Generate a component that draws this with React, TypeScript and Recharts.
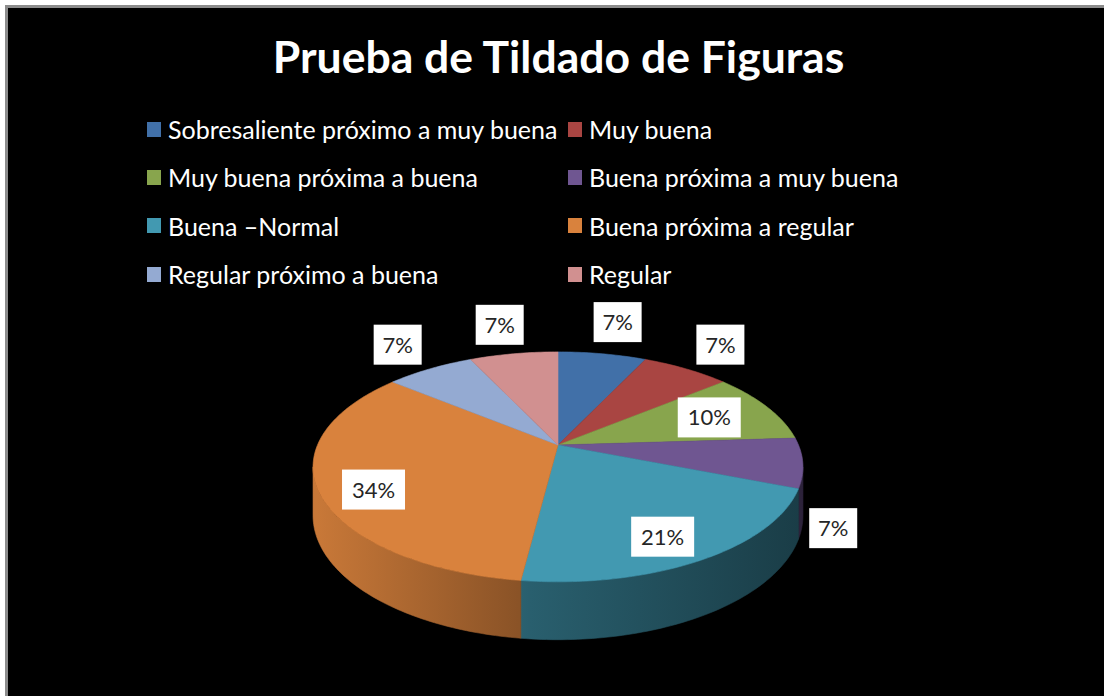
import { PieChart, Pie, Legend } from "recharts";

const categories = [
  "Sobresaliente próximo a muy buena",
  "Muy buena",
  "Muy buena próxima a buena",
  "Buena próxima a muy buena",
  "Buena –Normal",
  "Buena próxima a regular",
  "Regular próximo a buena",
  "Regular",
];
const values = [7, 7, 10, 7, 21, 34, 7, 7];
const colors = ["#4170A8", "#A94542", "#88A54D", "#6F5691", "#4299B1", "#D9823D", "#94AAD2", "#D19090"];

// where each percent box sits: radius fraction and drop in wall depths
const labelRadius = [1.44, 1.32, 0.71, 1.12, 0.75, 0.78, 1.3, 1.4];
const labelDrop = [0, -0.1, 0, 1.3, 0.19, 0.22, -0.13, 0];

const data = categories.map((name, i) => ({ name, value: values[i] }));

const TILT = 0.4607;
const PERSP = 0.19;
const DEPTH = 0.195;
const FONT = "Lato, 'Open Sans', sans-serif";

function project(cx: number, cy: number, R: number, f: number, deg: number, drop = 0) {
  const t = (deg * Math.PI) / 180;
  const s = 1 / (1 + PERSP * f * Math.sin(t));
  return [cx + R * f * Math.cos(t) * s, cy - R * TILT * f * Math.sin(t) * s + drop * R * DEPTH * s];
}

function arcPoints(cx: number, cy: number, R: number, from: number, to: number, drop = 0) {
  const pts: number[][] = [];
  const n = Math.max(2, Math.ceil(Math.abs(to - from)));
  for (let k = 0; k <= n; k++) {
    pts.push(project(cx, cy, R, 1, from + ((to - from) * k) / n, drop));
  }
  return pts;
}

function shade(hex: string, k: number) {
  const n = parseInt(hex.slice(1), 16);
  const c = [(n >> 16) & 255, (n >> 8) & 255, n & 255].map((v) => Math.round(v * k));
  return `rgb(${c.join(",")})`;
}

const SIL = (Math.asin(PERSP) * 180) / Math.PI;

function renderSlice(props: any) {
  const { cx, cy, outerRadius: R, startAngle, endAngle, index } = props;
  const color = colors[index];
  const hi = Math.max(startAngle, endAngle);
  const lo = Math.min(startAngle, endAngle);
  const top = arcPoints(cx, cy, R, hi, lo);
  const topPath = `M${cx},${cy} ` + top.map((p) => `L${p[0]},${p[1]}`).join(" ") + " Z";

  const wHi = Math.min(hi, -SIL);
  const wLo = Math.max(lo, -180 + SIL);
  let wallPath = "";
  if (wLo < wHi) {
    const upper = arcPoints(cx, cy, R, wHi, wLo);
    const lower = arcPoints(cx, cy, R, wLo, wHi, 1);
    wallPath =
      "M" + upper.map((p) => `${p[0]},${p[1]}`).join(" L") + " L" + lower.map((p) => `${p[0]},${p[1]}`).join(" L") + " Z";
  }
  const gid = `wall-${index}`;
  return (
    <g key={`slice-${index}`}>
      <defs>
        <linearGradient id={gid} gradientUnits="userSpaceOnUse" x1={cx - R} y1={0} x2={cx + R} y2={0}>
          <stop offset="0" stopColor={shade(color, 0.92)} />
          <stop offset="0.44" stopColor={shade(color, 0.62)} />
          <stop offset="1" stopColor={shade(color, 0.4)} />
        </linearGradient>
      </defs>
      {wallPath && <path d={wallPath} fill={`url(#${gid})`} stroke={`url(#${gid})`} strokeWidth={0.6} />}
      <path d={topPath} fill={color} stroke={color} strokeWidth={0.6} />
    </g>
  );
}

function renderPercent(props: any) {
  const { cx, cy, outerRadius: R, midAngle, index, percent } = props;
  const [x, y] = project(cx, cy, R, labelRadius[index], midAngle, labelDrop[index]);
  const text = `${Math.round(percent * 100)}%`;
  const w = 15 * text.length + 18;
  const h = 40;
  return (
    <g key={`pct-${index}`}>
      <rect x={x - w / 2} y={y - h / 2} width={w} height={h} fill="#fff" />
      <text x={x} y={y + 8} textAnchor="middle" fill="#262626" fontSize={22} fontFamily={FONT}>
        {text}
      </text>
    </g>
  );
}

function renderLegend() {
  return (
    <div style={styles.legend}>
      {categories.map((name, i) => (
        <div key={name} style={styles.legendItem}>
          <span style={{ ...styles.swatch, background: colors[i] }} />
          <span>{name}</span>
        </div>
      ))}
    </div>
  );
}

export default function App() {
  return (
    <div style={styles.page}>
      <div style={styles.frame} />
      <div style={styles.title}>Prueba de Tildado de Figuras</div>
      <div style={{ position: "absolute", left: 0, top: 0 }}>
        <PieChart width={1104} height={696}>
          <Pie
            data={data}
            dataKey="value"
            nameKey="name"
            cx={553}
            cy={440}
            outerRadius={240.5}
            startAngle={90}
            endAngle={-270}
            fill="transparent"
            stroke="none"
            label={renderSlice}
            labelLine={false}
            legendType="none"
            isAnimationActive={false}
          />
          <Pie
            data={data}
            dataKey="value"
            nameKey="name"
            cx={553}
            cy={440}
            outerRadius={240.5}
            startAngle={90}
            endAngle={-270}
            fill="transparent"
            stroke="none"
            label={renderPercent}
            labelLine={false}
            isAnimationActive={false}
          />
          <Legend content={renderLegend} wrapperStyle={{ position: "absolute", left: 147, top: 105, width: 900 }} />
        </PieChart>
      </div>
    </div>
  );
}

const styles: Record<string, React.CSSProperties> = {
  page: {
    position: "absolute",
    left: 0,
    top: 0,
    width: 1104,
    height: 696,
    background: "#fff",
    overflow: "hidden",
  },
  frame: {
    position: "absolute",
    left: 5,
    top: 5,
    width: 1099,
    height: 691,
    boxSizing: "border-box",
    borderTop: "3px solid #8c8c8c",
    borderLeft: "3px solid #8c8c8c",
    background: "#000",
  },
  title: {
    position: "absolute",
    left: 0,
    top: 32,
    width: 1117,
    textAlign: "center",
    color: "#fff",
    fontFamily: FONT,
    fontWeight: 700,
    fontSize: 44.5,
    lineHeight: "48px",
  },
  legend: {
    display: "grid",
    gridTemplateColumns: "421px 421px",
    rowGap: 0,
    fontFamily: FONT,
    fontSize: 25,
    color: "#fff",
  },
  legendItem: { display: "flex", alignItems: "center", height: 48.3, whiteSpace: "nowrap" },
  swatch: { display: "inline-block", width: 14, height: 15, marginRight: 7 },
};
